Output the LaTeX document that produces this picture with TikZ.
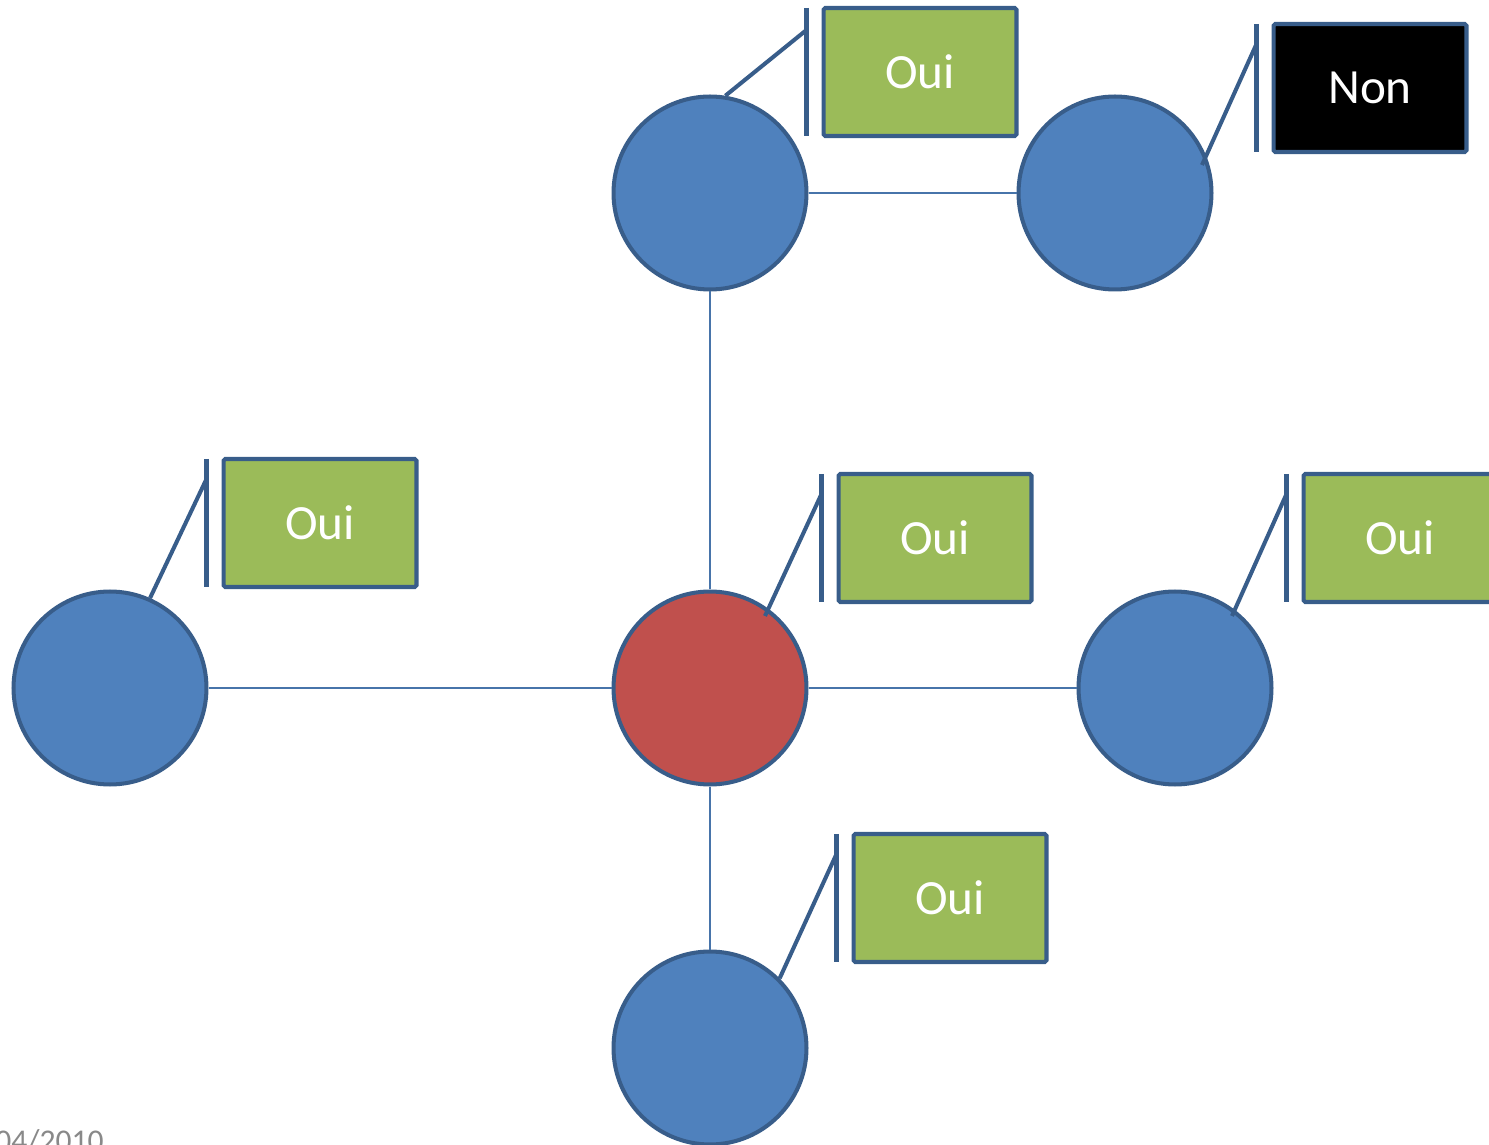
\documentclass[tikz,border=0pt]{standalone}
\usepackage{fontspec}
\setmainfont{Carlito}
\definecolor{NodeBlue}{RGB}{79, 129, 189}
\definecolor{EdgeBlue}{RGB}{56, 93, 138}
\definecolor{NodeRed}{RGB}{192, 80, 77}
\definecolor{TagGreen}{RGB}{155, 187, 89}
\definecolor{DateGray}{RGB}{137, 137, 137}
\usetikzlibrary{positioning, calc}

\begin{document}
\begin{tikzpicture}[
            x=0.02cm, y=-0.02cm,
            site/.style={circle, draw=EdgeBlue, line width=2.3pt, fill=NodeBlue,
                         minimum size=3.86cm, inner sep=0pt},
            root/.style={site, fill=NodeRed},
            tag/.style={rectangle, rounded corners=1pt, draw=EdgeBlue, line width=2.3pt,
                        fill=TagGreen, text=white, minimum width=3.86cm, minimum height=2.56cm,
                        inner sep=0pt, font=\fontsize{28}{30}\selectfont},
            notag/.style={tag, fill=black},
            link/.style={NodeBlue!90!black, line width=0.8pt},
            bar/.style={EdgeBlue, line width=2.3pt}
        ]
            \clip (0,0) rectangle (1489,1145);

            % sites
            \node[site] (top) at (710,193) {};
            \node[site] (topright) at (1115,193) {};
            \node[root] (centre) at (710,688) {};
            \node[site] (left) at (110,688) {};
            \node[site] (right) at (1175,688) {};
            \node[site] (bottom) at (710,1048) {};

            % links
            \draw[link] (top) -- (topright);
            \draw[link] (top) -- (centre);
            \draw[link] (left) -- (centre);
            \draw[link] (centre) -- (right);
            \draw[link] (centre) -- (bottom);

            % answers
            \node[tag] (tagtop) at (920,72) {Oui};
            \node[notag] (tagtopright) at (1370,88) {Non};
            \node[tag] (tagleft) at (320,523) {Oui};
            \node[tag] (tagcentre) at (935,538) {Oui};
            \node[tag] (tagright) at (1400,538) {Oui};
            \node[tag] (tagbottom) at (950,898) {Oui};

            % callout bars
            \draw[bar] ($(tagtop.north west)+(-15,2)$) coordinate (bartop) -- ($(tagtop.south west)+(-15,-2)$);
            \draw[bar] ($(tagtopright.north west)+(-15,2)$) coordinate (bartopright) -- ($(tagtopright.south west)+(-15,-2)$);
            \draw[bar] ($(tagleft.north west)+(-15,2)$) coordinate (barleft) -- ($(tagleft.south west)+(-15,-2)$);
            \draw[bar] ($(tagcentre.north west)+(-15,2)$) coordinate (barcentre) -- ($(tagcentre.south west)+(-15,-2)$);
            \draw[bar] ($(tagright.north west)+(-15,2)$) coordinate (barright) -- ($(tagright.south west)+(-15,-2)$);
            \draw[bar] ($(tagbottom.north west)+(-15,2)$) coordinate (barbottom) -- ($(tagbottom.south west)+(-15,-2)$);

            % callout pointers
            \draw[bar] (top.81) -- ($(bartop)+(0,22)$);
            \draw[bar] ($(topright.center)+(87,-28)$) -- ($(bartopright)+(0,20)$);
            \draw[bar] (left.66) -- ($(barleft)+(0,20)$);
            \draw[bar] ($(centre.center)+(55,-72)$) -- ($(barcentre)+(0,20)$);
            \draw[bar] ($(right.center)+(57,-72)$) -- ($(barright)+(0,20)$);
            \draw[bar] (bottom.45) -- ($(barbottom)+(0,20)$);

            % date
            \node[anchor=base west, inner sep=0pt, text=DateGray,
                  font=\fontsize{18}{20}\selectfont] (date) at (-5,1151) {04/2010};
        \end{tikzpicture}
\end{document}
